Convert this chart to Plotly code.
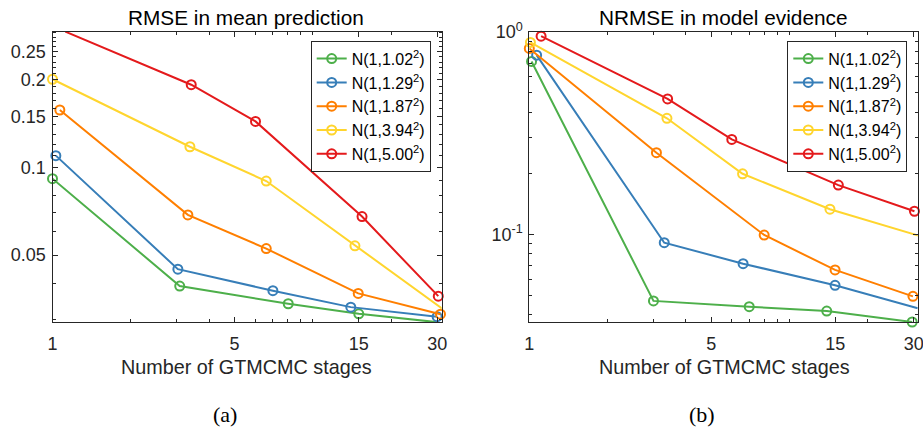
import plotly.graph_objects as go
import numpy as np

# ---------------- data ----------------
labels = ["N(1,1.02<sup>2</sup>)", "N(1,1.29<sup>2</sup>)", "N(1,1.87<sup>2</sup>)",
          "N(1,3.94<sup>2</sup>)", "N(1,5.00<sup>2</sup>)"]
colors = ["#4DAF4A", "#377EB8", "#FF7F00", "#FFD52E", "#E41A1C"]

# (a) RMSE in mean prediction
rmse_x_g = [1.0, 3.08, 8.04, 15.0, 29.8]
rmse_y_g = [0.0915, 0.0391, 0.0340, 0.0314, 0.0294]
rmse_x_b = [1.03, 3.03, 7.02, 13.98, 30.0]
rmse_y_b = [0.1098, 0.0447, 0.0377, 0.0331, 0.0307]
rmse_x_o = [1.067, 3.31, 6.62, 14.93, 30.9]
rmse_y_o = [0.1576, 0.0687, 0.0526, 0.0369, 0.0313]
rmse_x_y = [1.0, 3.37, 6.62, 14.5, 31.4]
rmse_y_y = [0.201, 0.1178, 0.0898, 0.0538, 0.0327]
rmse_x_r = [1.12, 3.41, 6.02, 15.44, 30.3]
rmse_y_r = [0.293, 0.1925, 0.144, 0.0678, 0.0361]

# (b) NRMSE in model evidence
nrmse_x_g = [1.02, 3.0, 7.0, 13.9, 29.6]
nrmse_y_g = [0.714, 0.0469, 0.0439, 0.0418, 0.0369]
nrmse_x_b = [1.067, 3.30, 6.63, 14.96, 31.1]
nrmse_y_b = [0.767, 0.0909, 0.0716, 0.056, 0.0431]
nrmse_x_o = [1.0, 3.08, 7.99, 14.96, 29.8]
nrmse_y_o = [0.828, 0.253, 0.0992, 0.0667, 0.0494]
nrmse_x_y = [1.01, 3.38, 6.6, 14.3, 31.3]
nrmse_y_y = [0.886, 0.374, 0.199, 0.133, 0.0985]
nrmse_x_r = [1.11, 3.40, 6.0, 15.4, 30.2]
nrmse_y_r = [0.952, 0.466, 0.294, 0.175, 0.130]

x_ticks = [1, 5, 15, 30]
x_ticktext = ["1", "5", "15", "30"]
x_minor = [2, 3, 4, 6, 7, 8, 9, 10, 20]
rmse_yticks = [0.05, 0.1, 0.15, 0.2, 0.25]
rmse_yticktext = ["0.05", "0.1", "0.15", "0.2", "0.25"]
rmse_yminor = [round(v, 2) for v in np.arange(0.03, 0.30, 0.01)]
nrmse_yticks = [0.1, 1]
nrmse_yticktext = ["10<sup>-1</sup>", "10<sup>0</sup>"]
nrmse_yminor = [0.04, 0.05, 0.06, 0.07, 0.08, 0.09, 0.2, 0.3, 0.4, 0.5, 0.6, 0.7, 0.8, 0.9]

left_sets = [(rmse_x_g, rmse_y_g), (rmse_x_b, rmse_y_b), (rmse_x_o, rmse_y_o),
             (rmse_x_y, rmse_y_y), (rmse_x_r, rmse_y_r)]
right_sets = [(nrmse_x_g, nrmse_y_g), (nrmse_x_b, nrmse_y_b), (nrmse_x_o, nrmse_y_o),
              (nrmse_x_y, nrmse_y_y), (nrmse_x_r, nrmse_y_r)]

# ---------------- figure ----------------
W, H = 923, 435
FONT = "Liberation Sans, Arial, Helvetica, sans-serif"
AX = "#262626"

fig = go.Figure()
for i, (xs, ys) in enumerate(left_sets):
    fig.add_trace(go.Scatter(x=xs, y=ys, mode="lines+markers", name=labels[i],
                             line=dict(color=colors[i], width=2),
                             marker=dict(symbol="circle-open", size=9, color=colors[i],
                                         line=dict(width=2, color=colors[i])),
                             xaxis="x", yaxis="y", legend="legend", cliponaxis=False))
for i, (xs, ys) in enumerate(right_sets):
    fig.add_trace(go.Scatter(x=xs, y=ys, mode="lines+markers", name=labels[i],
                             line=dict(color=colors[i], width=2),
                             marker=dict(symbol="circle-open", size=9, color=colors[i],
                                         line=dict(width=2, color=colors[i])),
                             xaxis="x2", yaxis="y2", legend="legend2", cliponaxis=False))


def px_x(p):
    return p / W


def px_y(p):
    return 1 - p / H


common = dict(type="log", showgrid=False, zeroline=False, showline=True, linecolor=AX,
              linewidth=1, mirror="ticks", ticks="inside", ticklen=5, tickwidth=1,
              tickcolor=AX, tickfont=dict(family=FONT, size=18, color=AX), automargin=False,
              ticklabeloverflow="allow")

xax = dict(common, tickmode="array", tickvals=x_ticks, ticktext=x_ticktext,
           minor=dict(tickmode="array", tickvals=x_minor, ticks="inside", ticklen=3,
                      tickcolor=AX))

fig.update_layout(
    width=W, height=H, margin=dict(l=0, r=0, t=0, b=0),
    paper_bgcolor="white", plot_bgcolor="white",
    font=dict(family=FONT, color=AX),
    xaxis=dict(xax, domain=[px_x(52.5), px_x(441.7)], range=[0, 1.4946], anchor="y",
               ticklabelstandoff=5),
    yaxis=dict(common, domain=[px_y(322), px_y(31.7)], range=[-1.5313, -0.5333], anchor="x",
               tickmode="array", tickvals=rmse_yticks, ticktext=rmse_yticktext,
               minor=dict(tickmode="array", tickvals=rmse_yminor, ticks="inside", ticklen=3,
                          tickcolor=AX), ticklabelstandoff=2),
    xaxis2=dict(xax, domain=[px_x(529.3), px_x(917.7)], range=[0, 1.4925], anchor="y2",
                ticklabelstandoff=5),
    yaxis2=dict(common, domain=[px_y(322), px_y(31.7)], range=[-1.433, 0.0005], anchor="x2",
                tickmode="array", tickvals=nrmse_yticks, ticktext=nrmse_yticktext,
                minor=dict(tickmode="array", tickvals=nrmse_yminor, ticks="inside", ticklen=3,
                           tickcolor=AX), ticklabelstandoff=2),
    legend=dict(x=px_x(310.7), y=px_y(40.7), xanchor="left", yanchor="top",
                bgcolor="white", bordercolor=AX, borderwidth=1,
                font=dict(family=FONT, size=16, color="black"), tracegroupgap=0),
    legend2=dict(x=px_x(787.3), y=px_y(40.7), xanchor="left", yanchor="top",
                 bgcolor="white", bordercolor=AX, borderwidth=1,
                 font=dict(family=FONT, size=16, color="black"), tracegroupgap=0),
    showlegend=True,
)

anns = [
    dict(text="RMSE in mean prediction", x=px_x(246), y=px_y(17), size=20.8, fam=FONT, col="black"),
    dict(text="NRMSE in model evidence", x=px_x(723), y=px_y(17), size=20.8, fam=FONT, col="black"),
    dict(text="Number of GTMCMC stages", x=px_x(247), y=px_y(366.5), size=19.8, fam=FONT, col=AX),
    dict(text="Number of GTMCMC stages", x=px_x(724), y=px_y(366.5), size=19.8, fam=FONT, col=AX),
    dict(text="(a)", x=px_x(225), y=px_y(414), size=22, fam="Liberation Serif, serif", col="black"),
    dict(text="(b)", x=px_x(702), y=px_y(414), size=22, fam="Liberation Serif, serif", col="black"),
]
for a in anns:
    fig.add_annotation(text=a["text"], x=a["x"], y=a["y"], xref="paper", yref="paper",
                       xanchor="center", yanchor="middle", showarrow=False,
                       font=dict(family=a["fam"], size=a["size"], color=a["col"]))

fig.write_html("out.html")
